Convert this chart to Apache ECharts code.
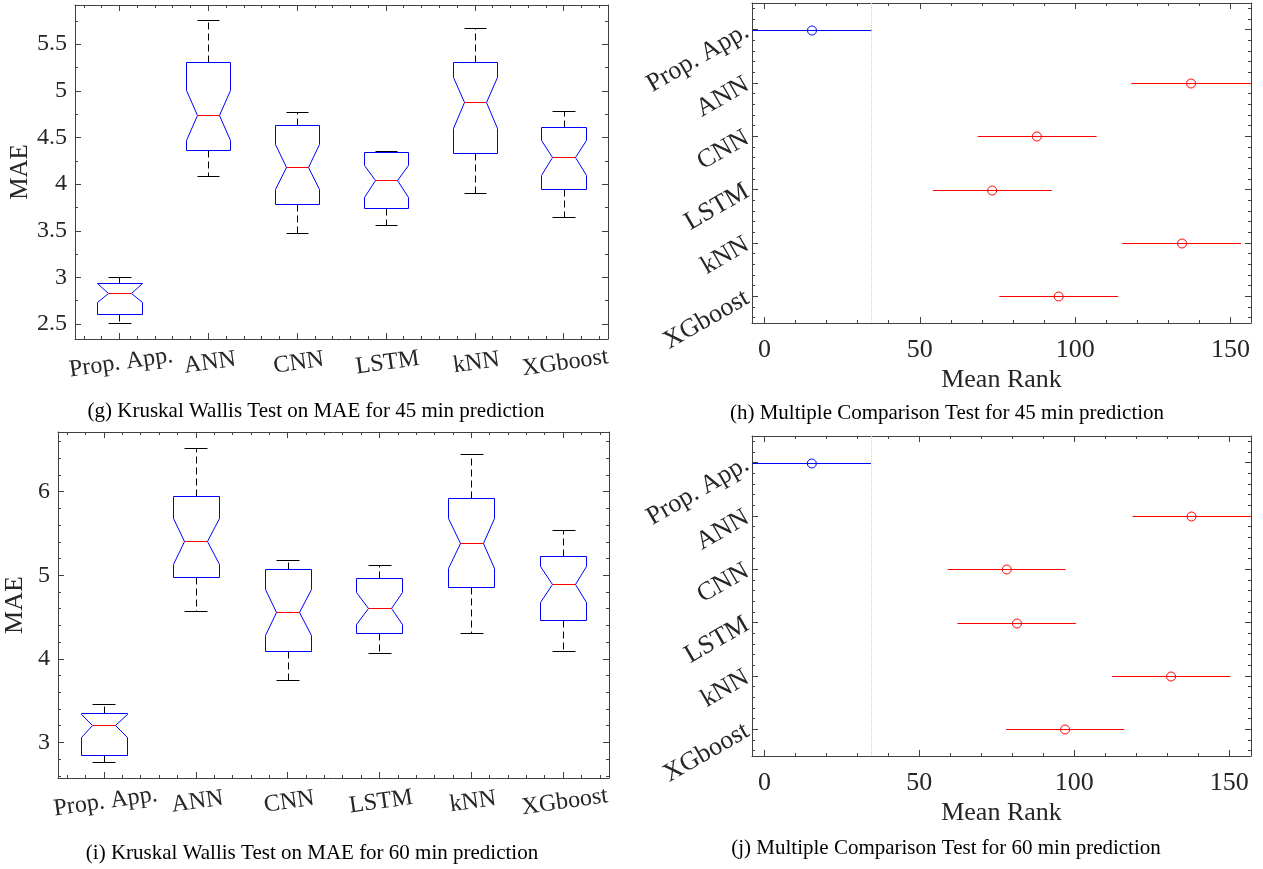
<!DOCTYPE html>
<html><head><meta charset="utf-8">
<script src="https://cdn.jsdelivr.net/npm/echarts@6/dist/echarts.min.js"></script>
<style>html,body{margin:0;padding:0;background:#fff}#c{width:1263px;height:869px}</style>
</head><body><div id="c"></div>
<script>
// ---------- data ----------
const categories = ['Prop. App.', 'ANN', 'CNN', 'LSTM', 'kNN', 'XGboost'];
// box stats per model: [whiskerLow, q1, notchLow, median, notchHigh, q3, whiskerHigh]
const mae45 = [
  [2.508, 2.610, 2.740, 2.835, 2.940, 2.940, 3.005],
  [4.082, 4.370, 4.477, 4.743, 5.013, 5.310, 5.756],
  [3.474, 3.787, 3.944, 4.185, 4.427, 4.636, 4.775],
  [3.567, 3.744, 3.865, 4.039, 4.206, 4.345, 4.359],
  [3.904, 4.331, 4.605, 4.882, 5.152, 5.305, 5.674],
  [3.645, 3.944, 4.100, 4.288, 4.469, 4.611, 4.782]
];
const mae60 = [
  [2.761, 2.853, 3.064, 3.204, 3.344, 3.347, 3.463],
  [4.568, 4.979, 5.138, 5.414, 5.685, 5.944, 6.523],
  [3.746, 4.089, 4.281, 4.556, 4.831, 5.075, 5.186],
  [4.069, 4.305, 4.420, 4.604, 4.795, 4.971, 5.118],
  [4.313, 4.863, 5.090, 5.390, 5.685, 5.920, 6.451],
  [4.089, 4.468, 4.680, 4.899, 5.110, 5.230, 5.537]
];
// mean rank intervals per model: [low, mean, high]
const rank45 = [
  [-3.8, 15.3, 34.4], [118.1, 137.3, 156.5], [68.7, 87.7, 106.9],
  [54.2, 73.3, 92.5], [115.2, 134.4, 153.4], [75.6, 94.7, 113.8]
];
const rank60 = [
  [-3.8, 15.3, 34.4], [118.8, 137.8, 156.9], [59.1, 78.2, 97.2],
  [62.3, 81.5, 100.5], [112.2, 131.2, 150.3], [78.0, 97.0, 116.1]
];
const maeRange45 = [2.34, 5.92];
const maeRange60 = [2.574, 6.714];
const rankRange45 = [-4, 156.6];
const rankRange60 = [-4, 157];
const captions = [
  '(g) Kruskal Wallis Test on MAE for 45 min prediction',
  '(h) Multiple Comparison Test for 45 min prediction',
  '(i) Kruskal Wallis Test on MAE for 60 min prediction',
  '(j) Multiple Comparison Test for 60 min prediction'
];
const yName = 'MAE';
const xNameRank = 'Mean Rank';

// ---------- style ----------
const FONT = 'Liberation Serif';
const TXT = '#262626';
const AX = '#404040';
const BLUE = '#0000ff';
const RED = '#ff0000';

function crisp(v) { return Math.round(v) + 0.5; }

function boxRender(params, api) {
  const x = api.value(0);
  const wl = api.value(1), q1 = api.value(2), nl = api.value(3), md = api.value(4),
        nh = api.value(5), q3 = api.value(6), wh = api.value(7);
  const hw = 0.25, nw = 0.125;
  const P = (dx, v) => { const p = api.coord([x + dx, v]); return [crisp(p[0]), crisp(p[1])]; };
  const poly = [P(-hw, q1), P(-hw, nl), P(-nw, md), P(-hw, nh), P(-hw, q3),
                P(hw, q3), P(hw, nh), P(nw, md), P(hw, nl), P(hw, q1)];
  const cq3 = P(0, q3), cwh = P(0, wh), cq1 = P(0, q1), cwl = P(0, wl);
  const capL = P(-nw, wh), capR = P(nw, wh), capL2 = P(-nw, wl), capR2 = P(nw, wl);
  const mL = P(-nw, md), mR = P(nw, md);
  const dash = { stroke: '#000', lineWidth: 1, lineDash: [7, 4] };
  const solid = { stroke: '#000', lineWidth: 1 };
  return {
    type: 'group',
    children: [
      { type: 'line', shape: { x1: cq3[0], y1: cq3[1], x2: cwh[0], y2: cwh[1] }, style: dash },
      { type: 'line', shape: { x1: cq1[0], y1: cq1[1], x2: cwl[0], y2: cwl[1] }, style: dash },
      { type: 'line', shape: { x1: capL[0], y1: capL[1], x2: capR[0], y2: capR[1] }, style: solid },
      { type: 'line', shape: { x1: capL2[0], y1: capL2[1], x2: capR2[0], y2: capR2[1] }, style: solid },
      { type: 'polygon', shape: { points: poly }, style: { fill: 'none', stroke: BLUE, lineWidth: 1 } },
      { type: 'line', shape: { x1: mL[0], y1: mL[1], x2: mR[0], y2: mR[1] }, style: { stroke: RED, lineWidth: 1 } }
    ]
  };
}

function rankRender(params, api) {
  const y = api.value(0);
  const lo = api.value(1), mn = api.value(2), hi = api.value(3);
  const col = params.dataIndex === 0 ? BLUE : RED;
  const a = api.coord([lo, y]), b = api.coord([hi, y]), m = api.coord([mn, y]);
  const yy = crisp(a[1]);
  return {
    type: 'group',
    children: [
      { type: 'line', z2: 10, shape: { x1: a[0], y1: yy, x2: b[0], y2: yy }, style: { stroke: col, fill: null, lineWidth: 1 } },
      { type: 'circle', z2: 11, shape: { cx: m[0], cy: yy, r: 4.5 }, style: { fill: 'none', stroke: col, lineWidth: 1 } }
    ]
  };
}

const catFormatter = v => (Math.abs(v - Math.round(v)) < 1e-6 && v >= 1 && v <= 6) ? categories[Math.round(v) - 1] : '';

function baseAxis(gridIndex, position, extra) {
  return Object.assign({
    gridIndex, position, type: 'value',
    axisLine: { show: true, onZero: false, lineStyle: { color: AX, width: 1 } },
    axisTick: { show: true, inside: true, length: 6, lineStyle: { color: AX } },
    minorTick: { show: true, length: 3, lineStyle: { color: AX } },
    splitLine: { show: false },
    minorSplitLine: { show: false }
  }, extra);
}

function boxPanel(gi, yr, labelSize, yMinor, yInt, nameGap, nameSize) {
  const xCommon = { min: 0.5, max: 6.5, minInterval: 1, maxInterval: 1, minorTick: { show: true, splitNumber: 5, length: 3, lineStyle: { color: AX } } };
  const yCommon = { min: yr[0], max: yr[1], minInterval: yInt, maxInterval: yInt, minorTick: { show: true, splitNumber: yMinor, length: 3, lineStyle: { color: AX } } };
  const xs = [
    baseAxis(gi, 'bottom', Object.assign({}, xCommon, {
      axisLabel: { formatter: catFormatter, rotate: 8, align: 'center', verticalAlign: 'top', margin: 12,
        fontFamily: FONT, fontSize: labelSize, color: TXT, showMinLabel: true, showMaxLabel: true }
    })),
    baseAxis(gi, 'top', Object.assign({}, xCommon, { axisLabel: { show: false } }))
  ];
  const ys = [
    baseAxis(gi, 'left', Object.assign({}, yCommon, {
      name: yName, nameLocation: 'middle', nameGap: nameGap, nameRotate: 90,
      nameTextStyle: { fontFamily: FONT, fontSize: nameSize, color: TXT },
      axisLabel: { showMinLabel: false, showMaxLabel: false, margin: 8, fontFamily: FONT, fontSize: labelSize, color: TXT }
    })),
    baseAxis(gi, 'right', Object.assign({}, yCommon, { axisLabel: { show: false } }))
  ];
  return { xs, ys };
}

function rankPanel(gi, xr) {
  const xCommon = { min: xr[0], max: xr[1], minInterval: 50, maxInterval: 50, minorTick: { show: true, splitNumber: 5, length: 3, lineStyle: { color: AX } } };
  const yCommon = { min: 0.5, max: 6.5, inverse: true, minInterval: 1, maxInterval: 1, minorTick: { show: true, splitNumber: 5, length: 3, lineStyle: { color: AX } } };
  const xs = [
    baseAxis(gi, 'bottom', Object.assign({}, xCommon, {
      name: xNameRank, nameLocation: 'middle', nameGap: 44,
      nameTextStyle: { fontFamily: FONT, fontSize: 26, color: TXT },
      axisLabel: { showMinLabel: false, showMaxLabel: false, margin: 14, fontFamily: FONT, fontSize: 26, color: TXT }
    })),
    baseAxis(gi, 'top', Object.assign({}, xCommon, { axisLabel: { show: false } }))
  ];
  const ys = [
    baseAxis(gi, 'left', Object.assign({}, yCommon, {
      axisLabel: { formatter: catFormatter, rotate: 30, margin: 5, fontFamily: FONT, fontSize: 26, color: TXT }
    })),
    baseAxis(gi, 'right', Object.assign({}, yCommon, { axisLabel: { show: false } }))
  ];
  return { xs, ys };
}

const pG = boxPanel(0, maeRange45, 24, 2, 0.5, 34, 25);
const pH = rankPanel(1, rankRange45);
const pI = boxPanel(2, maeRange60, 24, 5, 1, 30, 26);
const pJ = rankPanel(3, rankRange60);

const xAxis = [...pG.xs, ...pH.xs, ...pI.xs, ...pJ.xs];
const yAxis = [...pG.ys, ...pH.ys, ...pI.ys, ...pJ.ys];

function boxSeries(stats, axisIdx) {
  return {
    type: 'custom', xAxisIndex: axisIdx, yAxisIndex: axisIdx,
    renderItem: boxRender, silent: true, animation: false,
    encode: { x: 0, y: [1, 2, 3, 4, 5, 6, 7] },
    data: stats.map((s, i) => [i + 1].concat(s))
  };
}
function rankSeries(ranks, axisIdx) {
  return {
    type: 'custom', xAxisIndex: axisIdx, yAxisIndex: axisIdx,
    renderItem: rankRender, silent: true, animation: false, clip: true, z: 5,
    encode: { x: [1, 2, 3], y: 0 },
    data: ranks.map((r, i) => [i + 1].concat(r)),
    markLine: {
      silent: true, symbol: 'none', animation: false, z: 1,
      label: { show: false },
      lineStyle: { type: 'dotted', color: '#cfcfcf', width: 1 },
      data: [{ xAxis: ranks[0][2] }]
    }
  };
}

const capFont = '21px "Liberation Serif"';
const chart = echarts.init(document.getElementById('c'), null, { renderer: 'canvas' });
chart.setOption({
  animation: false,
  backgroundColor: '#fff',
  grid: [
    { left: 75, top: 5, width: 533, height: 334 },
    { left: 752, top: 3, width: 499, height: 320 },
    { left: 58, top: 432, width: 551, height: 346 },
    { left: 752, top: 436, width: 499, height: 320 }
  ],
  xAxis, yAxis,
  series: [
    boxSeries(mae45, 0),
    rankSeries(rank45, 2),
    boxSeries(mae60, 4),
    rankSeries(rank60, 6)
  ],
  graphic: [
    { type: 'text', x: 316, y: 411, style: { text: captions[0], font: capFont, fill: '#000', align: 'center', verticalAlign: 'middle' } },
    { type: 'text', x: 947, y: 413, style: { text: captions[1], font: capFont, fill: '#000', align: 'center', verticalAlign: 'middle' } },
    { type: 'text', x: 312, y: 853, style: { text: captions[2], font: capFont, fill: '#000', align: 'center', verticalAlign: 'middle' } },
    { type: 'text', x: 946, y: 848, style: { text: captions[3], font: capFont, fill: '#000', align: 'center', verticalAlign: 'middle' } }
  ]
});
</script>
</body></html>
